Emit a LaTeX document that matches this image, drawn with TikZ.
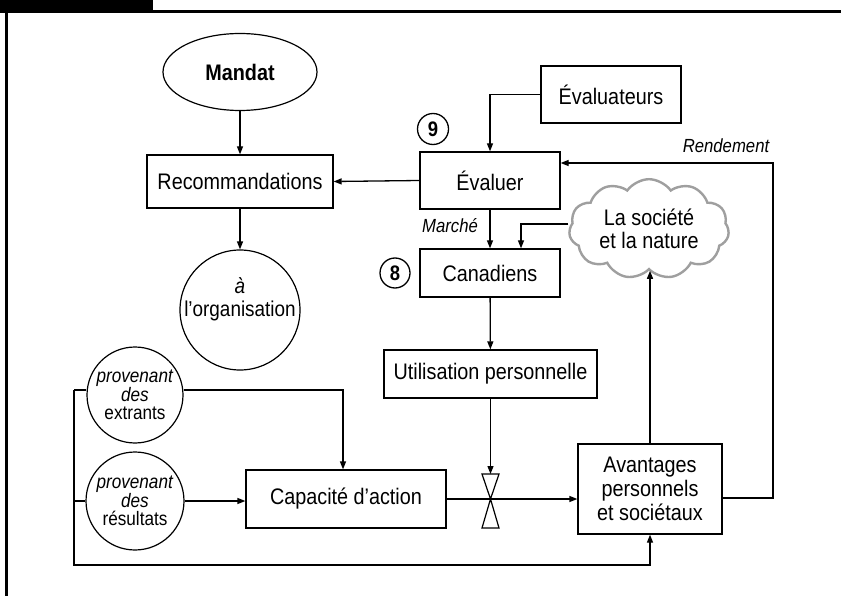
\documentclass[tikz,border=0pt]{standalone}
\usepackage{fontspec}
\setmainfont{Liberation Sans}[FakeStretch=0.88]
\usetikzlibrary{shapes.geometric,shapes.symbols,arrows.meta}
\tikzset{
  box/.style={draw, line width=1.3pt, rectangle, inner sep=0pt, align=center, font=\fontsize{22.5}{24}\selectfont},
  circ/.style={draw, line width=1.2pt, circle, inner sep=0pt, align=center},
  conn/.style={line width=1.3pt},
  arr/.style={conn, -{Triangle[length=8pt,width=6pt]}},
  lab/.style={font=\fontsize{19}{19}\selectfont\itshape, anchor=base},
  num/.style={draw, circle, line width=1.3pt, minimum size=31pt, inner sep=0pt, font=\fontsize{21}{21}\selectfont\bfseries},
  smalltxt/.style={font=\fontsize{19.5}{18}\selectfont},
}
\begin{document}
\begin{tikzpicture}[x=1pt,y=-1pt]
\useasboundingbox (0,0) rectangle (841,596);
% frame
\fill (0,0) rectangle (153,12);
\draw[line width=3pt] (0,11.5) -- (841,11.5);
\draw[line width=3pt] (6.5,11.5) -- (6.5,596);

% nodes
\node[draw, ellipse, line width=1.2pt, minimum width=154pt, minimum height=77pt, inner sep=0pt, font=\fontsize{22.5}{24}\selectfont\bfseries] (mandat) at (240,72) {Mandat};
\node[box, minimum width=186pt, minimum height=53pt] (reco) at (240,181.5) {Recommandations};
\node[circ, minimum size=120pt] (org) at (240,310) {};
\node[align=center, font=\fontsize{21.5}{23}\selectfont, inner sep=0pt] (orgtext) at (240,299) {\textit{à}\\l’organisation};
\node[box, minimum width=140pt, minimum height=57pt] (evalrs) at (611,94.5) {Évaluateurs};
\node[num] (n9) at (433,129) {9};
\node[box, minimum width=140pt, minimum height=57pt] (eval) at (490,180.5) {Évaluer};
\node[cloud, cloud puffs=11, cloud puff arc=110, aspect=1.7, draw=gray!75, line width=2.4pt, minimum width=160pt, minimum height=98pt, inner sep=0pt, align=center, font=\fontsize{22.5}{23}\selectfont] (cloud) at (649,229) {La société\\et la nature};
\node[box, minimum width=140pt, minimum height=48pt] (canad) at (490,273) {Canadiens};
\node[num, minimum size=30pt] (n8) at (395,273) {8};
\node[box, minimum width=213pt, minimum height=48pt] (util) at (490.5,374) {Utilisation personnelle};
\node[box, minimum width=200pt, minimum height=58pt] (capa) at (346,499) {Capacité d’action};
\node[box, minimum width=144pt, minimum height=90pt] (avant) at (650,489) {Avantages\\personnels\\et sociétaux};
\node[circ, minimum size=96pt, smalltxt] (extr) at (135,395) {\textit{provenant}\\\textit{des}\\extrants};
\node[circ, minimum size=98pt, smalltxt] (resu) at (135,501) {\textit{provenant}\\\textit{des}\\résultats};

\node[lab] (rendlab) at (726,153) {Rendement};
\node[lab] (marche) at (450,233) {Marché};

% coordinates
\coordinate (canin) at ([xshift=31pt]canad.north);
\coordinate (valve) at (490.5,499);
\coordinate (vtop) at (490.5,474);
\coordinate (rend) at (773,163);
\coordinate (ltop) at (74,390);
\coordinate (lbot) at (74,565);
\coordinate (cx) at (343,390);

% connectors
\draw[arr] (mandat) -- (reco);
\draw[arr] (reco) -- (org);
\draw[arr] (evalrs.west) -| (eval.north);
\draw[arr] (eval.west) -- (reco.east);
\draw[arr] (eval) -- (canad);
\draw[arr] ([yshift=5pt]cloud.west) -| (canin);
\draw[arr] (canad) -- (util);
\draw[arr] (util.south) -- (vtop);
\draw[arr] (capa.east) -- (avant.west |- capa.east);
\draw[line width=1.2pt, fill=white] ([xshift=-8.5pt]vtop) -- ([xshift=8.5pt]vtop) -- (valve) -- cycle;
\draw[line width=1.2pt, fill=white] (valve) -- ++(-8.5,29) -- ++(17,0) -- cycle;
\draw[arr] (avant.north) -- (avant.north |- cloud.south);
\draw[arr] ([yshift=-9pt]avant.east) -| (rend) -- (eval.east |- rend);
\draw[conn] (ltop) -- (ltop -| extr.west);
\draw[arr] (ltop -| extr.east) -- (cx) -- (cx |- capa.north);
\draw[arr] (ltop) -- (lbot) -| (avant.south);
\draw[conn] (ltop |- resu) -- (resu.west);
\draw[arr] (resu.east) -- (capa.west |- resu.east);
\end{tikzpicture}
\end{document}
